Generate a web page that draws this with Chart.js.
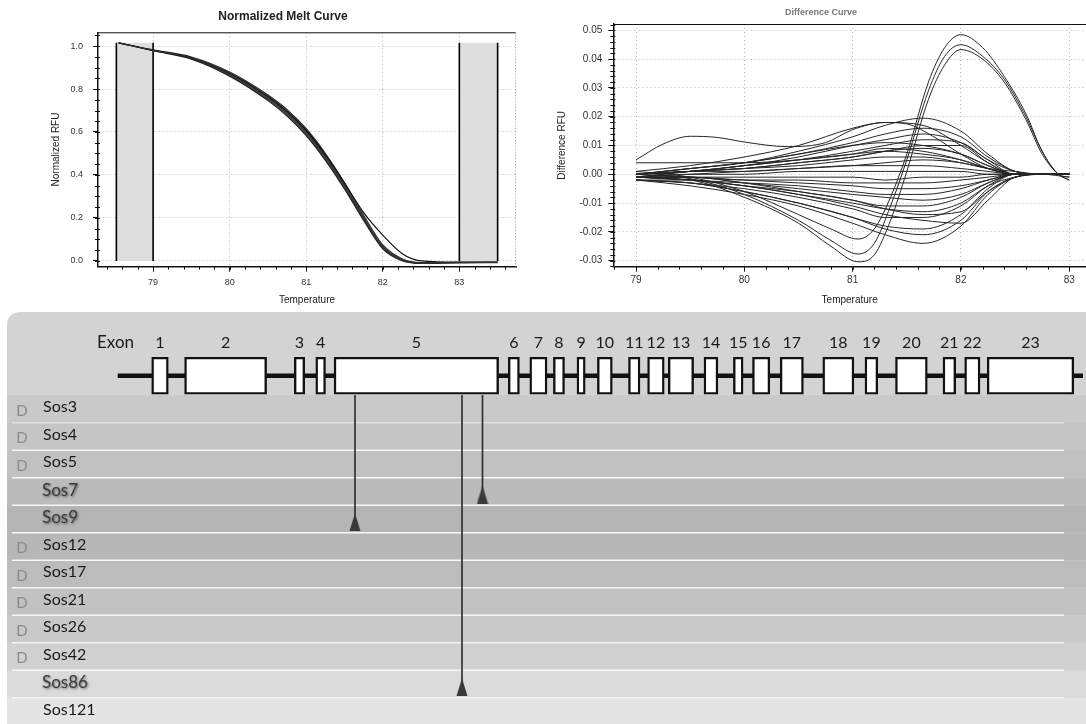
<!DOCTYPE html>
<html><head><meta charset="utf-8">
<script src="https://cdn.jsdelivr.net/npm/chart.js@4.4.0/dist/chart.umd.min.js"></script>
<style>
html,body{margin:0;padding:0;background:#fff;width:1086px;height:724px;overflow:hidden;}
canvas{position:absolute;display:block;}
#c1{left:0;top:0;}
#c2{left:543px;top:0;}
#c3{left:0;top:300px;}
</style></head><body>
<canvas id="c1" width="543" height="310"></canvas>
<canvas id="c2" width="543" height="310"></canvas>
<canvas id="c3" width="1086" height="424"></canvas>
<script>
// ---------------- DATA ----------------
// Normalized melt curve
const meltTemps = [78.55, 79, 79.5, 80, 80.5, 80.75, 81, 81.25, 81.5, 81.75, 82, 82.25, 82.5, 83, 83.5];
const meltMain  = [1.015, 0.980, 0.945, 0.870, 0.760, 0.690, 0.600, 0.485, 0.350, 0.200, 0.065, 0.006, -0.010, -0.008, -0.007];
const meltLow   = [1.015, 0.978, 0.939, 0.860, 0.746, 0.674, 0.583, 0.468, 0.335, 0.188, 0.056, 0.001, -0.012, -0.009, -0.008];
const meltHigh  = [1.015, 0.982, 0.949, 0.879, 0.772, 0.704, 0.615, 0.500, 0.364, 0.212, 0.074, 0.010, -0.008, -0.007, -0.006];
const meltLate  = [1.015, 0.980, 0.945, 0.872, 0.764, 0.695, 0.607, 0.494, 0.362, 0.225, 0.120, 0.035, 0.000, -0.006, -0.006];
const meltRegions = [[78.52, 79], [83, 83.5]];
const meltRegionTop = 1.015;
const meltXTicks = [79, 80, 81, 82, 83];
const meltYTicks = [0, 0.2, 0.4, 0.6, 0.8, 1.0];

// Difference curve
const diffXTicks = [79, 80, 81, 82, 83];
const diffYTicks = [-0.03, -0.02, -0.01, 0, 0.01, 0.02, 0.03, 0.04, 0.05];
const peakTemps = [79, 79.5, 80, 80.5, 80.8, 81.05, 81.2, 81.35, 81.5, 81.7, 81.85, 82, 82.2, 82.4, 82.6, 82.75, 82.9, 83];
const peakCurve1 = [0.001, -0.001, -0.006, -0.014, -0.019, -0.0225, -0.019, -0.008, 0.007, 0.032, 0.044, 0.0485, 0.044, 0.034, 0.021, 0.008, 0.000, -0.002];
const peakCurve2 = [0.000, -0.0015, -0.007, -0.016, -0.023, -0.0277, -0.024, -0.011, 0.005, 0.029, 0.041, 0.045, 0.041, 0.033, 0.020, 0.008, 0.000, -0.001];
const peakCurve3 = [-0.001, -0.002, -0.008, -0.017, -0.025, -0.0304, -0.028, -0.016, 0.001, 0.026, 0.038, 0.0433, 0.040, 0.032, 0.019, 0.007, 0.000, -0.002];
const humpTemps = [79, 79.25, 79.5, 79.75, 80, 80.4, 80.75, 81, 81.3, 81.5, 81.75, 82, 82.25, 82.5, 83];
const humpCurve = [0.005, 0.0105, 0.0132, 0.0128, 0.0112, 0.0096, 0.011, 0.0155, 0.018, 0.0175, 0.013, 0.007, 0.002, 0.000, 0.000];
const fanTemps = [79, 79.5, 80, 80.5, 81, 81.3, 81.65, 82, 82.25, 82.5, 82.75, 83];
const fanCurves = [
  [0.000, 0.002, 0.004, 0.008, 0.013, 0.017, 0.0195, 0.015, 0.007, 0.001, 0.000, 0.000],
  [0.001, 0.003, 0.006, 0.010, 0.016, 0.018, 0.017, 0.010, 0.004, 0.000, 0.000, -0.001],
  [0.000, 0.002, 0.004, 0.007, 0.011, 0.014, 0.016, 0.013, 0.006, 0.001, 0.000, 0.000],
  [-0.001, 0.001, 0.003, 0.006, 0.010, 0.012, 0.014, 0.011, 0.005, 0.000, 0.000, 0.000],
  [0.000, 0.001, 0.003, 0.005, 0.008, 0.010, 0.012, 0.011, 0.005, 0.001, 0.000, 0.000],
  [0.000, 0.002, 0.004, 0.007, 0.010, 0.011, 0.010, 0.007, 0.003, 0.000, 0.000, 0.000],
  [-0.001, 0.001, 0.002, 0.004, 0.006, 0.008, 0.009, 0.007, 0.003, 0.000, 0.000, 0.000],
  [0.000, 0.001, 0.003, 0.005, 0.007, 0.008, 0.007, 0.005, 0.002, 0.000, 0.000, 0.000],
  [0.000, 0.001, 0.002, 0.003, 0.005, 0.006, 0.006, 0.004, 0.002, 0.000, 0.000, 0.000],
  [-0.001, 0.000, 0.001, 0.002, 0.003, 0.004, 0.005, 0.004, 0.002, 0.001, 0.000, 0.000],
  [0.000, 0.001, 0.001, 0.002, 0.003, 0.003, 0.003, 0.002, 0.001, 0.000, 0.000, 0.000],
  [-0.001, 0.000, 0.000, 0.001, 0.001, 0.001, 0.001, 0.001, 0.000, 0.000, 0.000, 0.000],
  [-0.001, -0.001, -0.001, -0.001, -0.001, -0.002, -0.001, -0.001, 0.000, 0.000, 0.000, 0.000],
  [-0.001, -0.001, -0.002, -0.002, -0.003, -0.003, -0.003, -0.002, -0.001, 0.000, 0.000, 0.000],
  [0.000, -0.001, -0.002, -0.003, -0.004, -0.005, -0.005, -0.004, -0.002, 0.000, 0.000, 0.000],
  [-0.001, -0.002, -0.003, -0.004, -0.006, -0.007, -0.007, -0.005, -0.002, 0.000, 0.000, 0.000],
  [-0.001, -0.001, -0.003, -0.005, -0.007, -0.008, -0.009, -0.007, -0.003, 0.000, 0.000, 0.000],
  [-0.002, -0.002, -0.004, -0.006, -0.009, -0.011, -0.011, -0.008, -0.003, 0.000, 0.000, 0.000],
  [-0.001, -0.002, -0.004, -0.007, -0.010, -0.012, -0.013, -0.010, -0.004, -0.001, 0.000, 0.000],
  [-0.001, -0.001, -0.003, -0.006, -0.009, -0.012, -0.014, -0.013, -0.006, -0.001, 0.000, 0.000],
  [-0.002, -0.003, -0.005, -0.008, -0.012, -0.015, -0.015, -0.011, -0.004, 0.000, 0.000, 0.000],
  [-0.001, -0.002, -0.004, -0.007, -0.011, -0.014, -0.016, -0.017, -0.009, -0.001, 0.000, 0.000],
  [-0.002, -0.003, -0.006, -0.010, -0.015, -0.018, -0.019, -0.014, -0.005, 0.000, 0.000, 0.000],
  [-0.002, -0.003, -0.006, -0.010, -0.015, -0.019, -0.021, -0.016, -0.006, -0.001, 0.000, 0.000],
  [-0.002, -0.004, -0.007, -0.011, -0.017, -0.021, -0.024, -0.018, -0.007, -0.001, 0.000, 0.000],
  [0.000, 0.001, 0.002, 0.004, 0.006, 0.008, 0.010, 0.010, 0.004, 0.000, 0.000, 0.000],
  [0.004, 0.004, 0.004, 0.005, 0.007, 0.009, 0.008, 0.005, 0.002, 0.000, 0.000, 0.000]
];

// Gene structure (positions along the gene track)
const exonNumbers = ['1','2','3','4','5','6','7','8','9','10','11','12','13','14','15','16','17','18','19','20','21','22','23'];
const exonStart = [151.7, 184.6, 294.3, 315.8, 334.1, 508.3, 529.8, 553.4, 577.0, 597.4, 628.5, 647.6, 668.3, 704.0, 733.4, 752.5, 780.2, 822.8, 865.0, 895.5, 943.0, 964.7, 987.2];
const exonEnd   = [168.3, 266.6, 304.7, 325.5, 498.6, 519.4, 547.0, 564.5, 585.2, 612.3, 640.0, 664.2, 693.6, 717.9, 743.1, 769.8, 803.4, 853.9, 877.8, 927.3, 955.7, 980.0, 1073.8];
const geneSpan = [117.7, 1083];
const sampleNames = ['Sos3','Sos4','Sos5','Sos7','Sos9','Sos12','Sos17','Sos21','Sos26','Sos42','Sos86','Sos121'];
const sampleHasD  = [true, true, true, false, false, true, true, true, true, true, false, false];
const mutationPos = [355, 482.5, 462];
const mutationSample = ['Sos9', 'Sos7', 'Sos86'];

// ---------------- STYLE ----------------
const SANS = '"Liberation Sans", Arial, sans-serif';
const LATO = 'Lato, "Open Sans", sans-serif';
const rowShade = ['#c9c9c9','#c5c5c5','#c1c1c1','#bbbbbb','#b5b5b5','#b7b7b7','#bcbcbc','#c2c2c2','#c9c9c9','#d1d1d1','#dbdbdb','#e4e4e4'];

const pts = (xs, ys) => xs.map((x, i) => ({x: x, y: ys[i]}));

const frameMinor = {
  id: 'frameMinor',
  afterDraw(chart, args, opts) {
    const {ctx, chartArea: a, scales: {x, y}} = chart;
    ctx.save();
    ctx.strokeStyle = '#111';
    ctx.lineWidth = 1;
    ctx.beginPath(); ctx.moveTo(a.left, a.top + 0.5); ctx.lineTo(a.right, a.top + 0.5); ctx.stroke();
    if (opts.right) {
      ctx.strokeStyle = '#999'; ctx.setLineDash([1, 2]);
      ctx.beginPath(); ctx.moveTo(a.right - 0.5, a.top); ctx.lineTo(a.right - 0.5, a.bottom); ctx.stroke();
      ctx.setLineDash([]);
    }
    ctx.strokeStyle = '#111';
    ctx.beginPath();
    for (let v = Math.ceil(x.min / opts.xStep) * opts.xStep; v <= x.max; v += opts.xStep) {
      const px = Math.round(x.getPixelForValue(v)) + 0.5;
      ctx.moveTo(px, a.bottom); ctx.lineTo(px, a.bottom + 3);
    }
    for (let v = Math.ceil(y.min / opts.yStep) * opts.yStep; v <= y.max; v += opts.yStep) {
      const py = Math.round(y.getPixelForValue(v)) + 0.5;
      ctx.moveTo(a.left - 3, py); ctx.lineTo(a.left + 2, py);
    }
    ctx.stroke();
    ctx.restore();
  }
};

// ---------------- CHART 1: Normalized Melt Curve ----------------
const meltDatasets = [];
meltRegions.forEach(r => {
  meltDatasets.push({data: pts(r, [meltRegionTop, meltRegionTop]), fill: 'origin', backgroundColor: '#dedede', borderWidth: 0, pointRadius: 0, order: 10});
  r.forEach(v => meltDatasets.push({data: pts([v, v], [0, meltRegionTop]), borderColor: '#000', borderWidth: 1.6, pointRadius: 0, order: 9}));
});
meltDatasets.push({data: pts(meltTemps, meltHigh), borderColor: '#222', borderWidth: 1.2, pointRadius: 0, cubicInterpolationMode: 'monotone', order: 3});
meltDatasets.push({data: pts(meltTemps, meltLow), borderColor: '#222', borderWidth: 1.2, pointRadius: 0, cubicInterpolationMode: 'monotone', fill: '-1', backgroundColor: '#444444', order: 2});
meltDatasets.push({data: pts(meltTemps, meltMain), borderColor: '#333', borderWidth: 1, pointRadius: 0, cubicInterpolationMode: 'monotone', order: 1});
meltDatasets.push({data: pts(meltTemps, meltLate), borderColor: '#111', borderWidth: 1.2, pointRadius: 0, cubicInterpolationMode: 'monotone', order: 1});

function axisCommon(ticksArr, fmt, fontSize, pad) {
  return {
    type: 'linear',
    afterBuildTicks: s => { s.ticks = ticksArr.map(v => ({value: v})); },
    grid: {color: '#b5b5b5', lineWidth: 1, tickLength: 5, tickColor: '#111', drawTicks: true},
    border: {display: true, color: '#111', width: 1.5, dash: [1, 3]},
    ticks: {font: {family: SANS, size: fontSize}, color: '#333', padding: pad, callback: fmt, maxRotation: 0, autoSkip: false}
  };
}

const x1 = axisCommon(meltXTicks, v => String(v), 9, 5);
Object.assign(x1, {min: 78.28, max: 83.74, afterFit: s => { s.height = 43.3; },
  title: {display: true, text: 'Temperature', font: {family: SANS, size: 10}, color: '#222', padding: {top: 0, bottom: 4}}});
const y1 = axisCommon(meltYTicks, v => v.toFixed(1), 9, 10);
Object.assign(y1, {min: -0.027, max: 1.064, afterFit: s => { s.width = 48; },
  title: {display: true, text: 'Normalized RFU', font: {family: SANS, size: 10}, color: '#222', padding: {top: 0, bottom: 0}}});

new Chart(document.getElementById('c1'), {
  type: 'line',
  data: {datasets: meltDatasets},
  options: {
    responsive: false, animation: false,
    layout: {padding: {left: 50, right: 27, top: 0, bottom: 0}, autoPadding: false},
    plugins: {
      legend: {display: false}, tooltip: {enabled: false},
      title: {display: true, text: 'Normalized Melt Curve', font: {family: SANS, size: 12, weight: 'bold'}, color: '#222', padding: {top: 9.4, bottom: 8.5}},
      frameMinor: {xStep: 0.2, yStep: 0.05, right: true}
    },
    scales: {x: x1, y: y1}
  },
  plugins: [frameMinor]
});

// ---------------- CHART 2: Difference Curve ----------------
const diffDatasets = [];
const lineStyle = {borderColor: '#262626', borderWidth: 1, pointRadius: 0, cubicInterpolationMode: 'monotone', fill: false};
fanCurves.forEach(c => diffDatasets.push(Object.assign({data: pts(fanTemps, c)}, lineStyle)));
diffDatasets.push(Object.assign({data: pts(humpTemps, humpCurve)}, lineStyle));
[peakCurve1, peakCurve2, peakCurve3].forEach(c => diffDatasets.push(Object.assign({data: pts(peakTemps, c)}, lineStyle)));

const x2 = axisCommon(diffXTicks, v => String(v), 10, 3);
Object.assign(x2, {min: 78.79, max: 83.155, afterFit: s => { s.height = 43.3; },
  title: {display: true, text: 'Temperature', font: {family: SANS, size: 10}, color: '#222', padding: {top: 0, bottom: 4}}});
const y2 = axisCommon(diffYTicks, v => v.toFixed(2), 10, 6);
Object.assign(y2, {min: -0.0321, max: 0.0522, afterFit: s => { s.width = 57.3; },
  title: {display: true, text: 'Difference RFU', font: {family: SANS, size: 10}, color: '#222', padding: {top: 0, bottom: 0}}});

new Chart(document.getElementById('c2'), {
  type: 'line',
  data: {datasets: diffDatasets},
  options: {
    responsive: false, animation: false,
    layout: {padding: {left: 13, right: 0, top: 0, bottom: 0}, autoPadding: false},
    plugins: {
      legend: {display: false}, tooltip: {enabled: false},
      title: {display: true, text: 'Difference Curve', font: {family: SANS, size: 9}, color: '#777', padding: {top: 7.3, bottom: 5.9}},
      frameMinor: {xStep: 0.2, yStep: 0.002, right: false}
    },
    scales: {x: x2, y: y2}
  },
  plugins: [frameMinor]
});

// ---------------- CHART 3: Gene structure ----------------
const EXON_ROW = -1.21;      // track row of the gene model
const EXON_BOTTOM = -0.509;  // lower edge of exon boxes (row units)

const tri = document.createElement('canvas');
tri.width = 12; tri.height = 18;
(function () {
  const t = tri.getContext('2d');
  t.fillStyle = '#3a3a3a';
  t.beginPath(); t.moveTo(6, 0); t.lineTo(11.5, 18); t.lineTo(0.5, 18); t.closePath(); t.fill();
})();

const geneDatasets = [];
geneDatasets.push({type: 'bar', indexAxis: 'y', data: exonStart.map((s, i) => ({x: [s, exonEnd[i]], y: EXON_ROW})),
  backgroundColor: '#ffffff', borderColor: '#111', borderWidth: 2.4, borderSkipped: false, barThickness: 37, order: 0});
geneDatasets.push({type: 'line', data: pts(geneSpan, [EXON_ROW, EXON_ROW]), borderColor: '#111', borderWidth: 4.5, pointRadius: 0, order: 5});
mutationPos.forEach((p, i) => {
  const row = sampleNames.indexOf(mutationSample[i]);
  geneDatasets.push({type: 'line', data: pts([p, p], [EXON_BOTTOM, row]), borderColor: '#2a2a2a', borderWidth: 1.6, pointRadius: 0, order: 3});
});
geneDatasets.push({type: 'scatter', data: mutationPos.map((p, i) => ({x: p, y: sampleNames.indexOf(mutationSample[i]) + 0.11})),
  pointStyle: tri, pointRadius: 6, order: 1});

const geneBg = {
  id: 'geneBg',
  beforeDatasetsDraw(chart) {
    const {ctx, scales: {y}} = chart;
    const W = chart.width, H = chart.height, L = 7, T = 12, R = 14;
    ctx.save();
    ctx.fillStyle = '#d3d3d3';
    ctx.beginPath(); ctx.moveTo(L, H); ctx.lineTo(L, T + R); ctx.quadraticCurveTo(L, T, L + R, T); ctx.lineTo(W, T); ctx.lineTo(W, H); ctx.closePath(); ctx.fill();
    sampleNames.forEach((n, i) => {
      const y0 = y.getPixelForValue(i - 0.5), y1 = y.getPixelForValue(i + 0.5);
      ctx.fillStyle = rowShade[i];
      ctx.fillRect(L, y0, W - L, y1 - y0);
    });
    ctx.lineWidth = 1.5;
    for (let i = 0; i < sampleNames.length - 1; i++) {
      const yy = y.getPixelForValue(i + 0.5);
      ctx.strokeStyle = i === 0 ? 'rgba(245,245,245,0.55)' : '#f6f6f6';
      ctx.beginPath(); ctx.moveTo(12, yy); ctx.lineTo(1064, yy); ctx.stroke();
    }
    ctx.restore();
  },
  afterDatasetsDraw(chart) {
    const {ctx, scales: {x, y}} = chart;
    ctx.save();
    ctx.textBaseline = 'middle';
    ctx.fillStyle = '#1a1a1a';
    const ly = y.getPixelForValue(EXON_ROW) - 33;
    ctx.font = '17px ' + LATO; ctx.textAlign = 'left';
    ctx.fillText('Exon', 97, ly);
    ctx.font = '16px ' + LATO; ctx.textAlign = 'center';
    exonNumbers.forEach((n, i) => ctx.fillText(n, x.getPixelForValue((exonStart[i] + exonEnd[i]) / 2), ly));
    sampleNames.forEach((n, i) => {
      const py = y.getPixelForValue(i);
      const marked = mutationSample.indexOf(n) >= 0;
      ctx.textAlign = 'left';
      if (marked) {
        ctx.save();
        ctx.font = '17px ' + LATO; ctx.fillStyle = '#3c3c3c';
        ctx.shadowColor = 'rgba(0,0,0,0.55)'; ctx.shadowBlur = 2.5; ctx.shadowOffsetX = 1; ctx.shadowOffsetY = 1;
        ctx.fillText(n, 42, py - 1);
        ctx.restore();
      } else {
        ctx.font = '16px ' + LATO; ctx.fillStyle = '#1a1a1a';
        ctx.fillText(n, 43, py - 2);
      }
      if (sampleHasD[i]) {
        ctx.font = '15px ' + LATO; ctx.fillStyle = '#8a8a8a'; ctx.textAlign = 'center';
        ctx.fillText('D', 22, py + 2);
      }
    });
    ctx.restore();
  }
};

new Chart(document.getElementById('c3'), {
  type: 'scatter',
  data: {datasets: geneDatasets},
  options: {
    responsive: false, animation: false,
    layout: {padding: 0, autoPadding: false},
    plugins: {legend: {display: false}, tooltip: {enabled: false}},
    scales: {
      x: {type: 'linear', display: false, min: 0, max: 1086, offset: false},
      y: {type: 'linear', display: false, min: -3.964, max: 11.455, reverse: true, offset: false}
    }
  },
  plugins: [geneBg]
});
</script>
</body></html>
